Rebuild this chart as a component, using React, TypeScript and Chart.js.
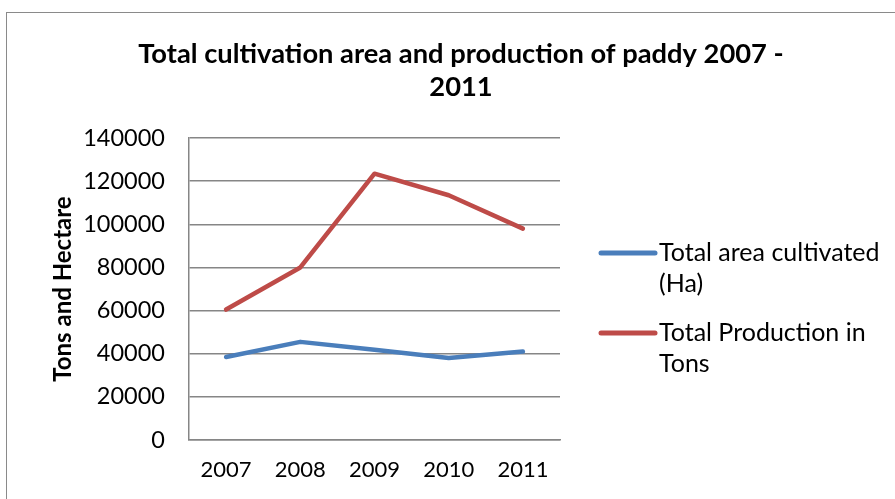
import React, { useEffect, useRef } from "react";
import { Chart, registerables } from "chart.js";

Chart.register(...registerables);

const categories = ["2007", "2008", "2009", "2010", "2011"];
const areaValues = [38500, 45500, 41800, 38000, 41000];
const productionValues = [60500, 80000, 123500, 113500, 98000];
const seriesLabels = ["Total area cultivated (Ha)", "Total Production in Tons"];
const legendLines = [["Total area cultivated", "(Ha)"], ["Total Production in", "Tons"]];
const titleLines = ["Total cultivation area and production of paddy 2007 -", "2011"];
const yAxisTitle = "Tons and Hectare";
const yMin = 0;
const yMax = 140000;
const yStep = 20000;

const BLUE = "#4A7EBB";
const RED = "#BE4B48";
const GRID = "#868686";
const FONT = "Lato, 'Open Sans', sans-serif";

const legendPlugin = {
  id: "customLegend",
  afterDraw(chart: any) {
    const { ctx, chartArea } = chart;
    const colors = [BLUE, RED];
    const x0 = chartArea.right + 41;
    const x1 = x0 + 54;
    const tx = x1 + 4;
    const lineH = 31;
    const starts = [chartArea.top + 115, chartArea.top + 195];
    ctx.save();
    ctx.font = `25px ${FONT}`;
    ctx.textBaseline = "middle";
    ctx.textAlign = "left";
    legendLines.forEach((lines, i) => {
      const y = starts[i];
      ctx.strokeStyle = colors[i];
      ctx.lineWidth = 5;
      ctx.lineCap = "round";
      ctx.beginPath();
      ctx.moveTo(x0, y);
      ctx.lineTo(x1, y);
      ctx.stroke();
      ctx.fillStyle = "#000";
      lines.forEach((t, j) => ctx.fillText(t, tx, y + j * lineH));
    });
    ctx.restore();
  },
};

export default function App() {
  const ref = useRef<HTMLCanvasElement | null>(null);
  useEffect(() => {
    if (!ref.current) return;
    const chart = new Chart(ref.current, {
      type: "line",
      data: {
        labels: categories,
        datasets: [
          {
            label: seriesLabels[0],
            data: areaValues,
            borderColor: BLUE,
            backgroundColor: BLUE,
            borderWidth: 4.5,
            pointRadius: 0,
            borderCapStyle: "round",
            borderJoinStyle: "round",
            tension: 0,
            yAxisID: "y",
          },
          {
            label: seriesLabels[1],
            data: productionValues,
            borderColor: RED,
            backgroundColor: RED,
            borderWidth: 4.5,
            pointRadius: 0,
            borderCapStyle: "round",
            borderJoinStyle: "round",
            tension: 0,
            yAxisID: "y",
          },
        ],
      },
      options: {
        animation: false,
        responsive: true,
        maintainAspectRatio: false,
        devicePixelRatio: 1,
        layout: { padding: 0 },
        plugins: {
          legend: { display: false },
          tooltip: { enabled: false },
          title: {
            display: true,
            text: titleLines,
            color: "#000",
            font: { family: FONT, size: 27.3, weight: "bold", lineHeight: 1.21 },
            padding: { top: 38, bottom: 34 },
          },
        },
        scales: {
          x: {
            offset: true,
            grid: { display: false, drawTicks: false },
            border: { display: true, color: GRID, width: 1.5 },
            ticks: { color: "#000", font: { family: FONT, size: 22 }, padding: 17 },
            afterFit: (s: any) => {
              s.height = 59;
            },
          },
          y: {
            min: yMin,
            max: yMax,
            grid: { color: GRID, lineWidth: 1.5, drawTicks: false },
            border: { display: true, color: GRID, width: 1.5 },
            ticks: {
              stepSize: yStep,
              color: "#000",
              font: { family: FONT, size: 23.5 },
              padding: 24,
              callback: (v: any) => String(v),
            },
            title: {
              display: true,
              text: yAxisTitle,
              color: "#000",
              font: { family: FONT, size: 24, weight: "bold" },
              padding: { top: 49, bottom: 0 },
            },
            afterFit: (s: any) => {
              s.width = 189;
            },
          },
          y2: {
            position: "right",
            display: true,
            grid: { display: false, drawTicks: false },
            border: { display: false },
            ticks: { display: false },
            afterFit: (s: any) => {
              s.width = 362;
            },
          },
        },
      } as any,
      plugins: [legendPlugin],
    });
    return () => chart.destroy();
  }, []);

  return (
    <div
      style={{
        position: "fixed",
        left: 0,
        top: 0,
        width: 895,
        height: 499,
        overflow: "hidden",
        background: "#fff",
      }}
    >
      <div
        style={{
          position: "absolute",
          left: 6,
          top: 12,
          width: 2000,
          height: 2000,
          border: "1.5px solid #8a8a8a",
        }}
      />
      <div style={{ position: "absolute", left: 0, top: 0, width: 922, height: 499 }}>
        <canvas ref={ref} />
      </div>
    </div>
  );
}
